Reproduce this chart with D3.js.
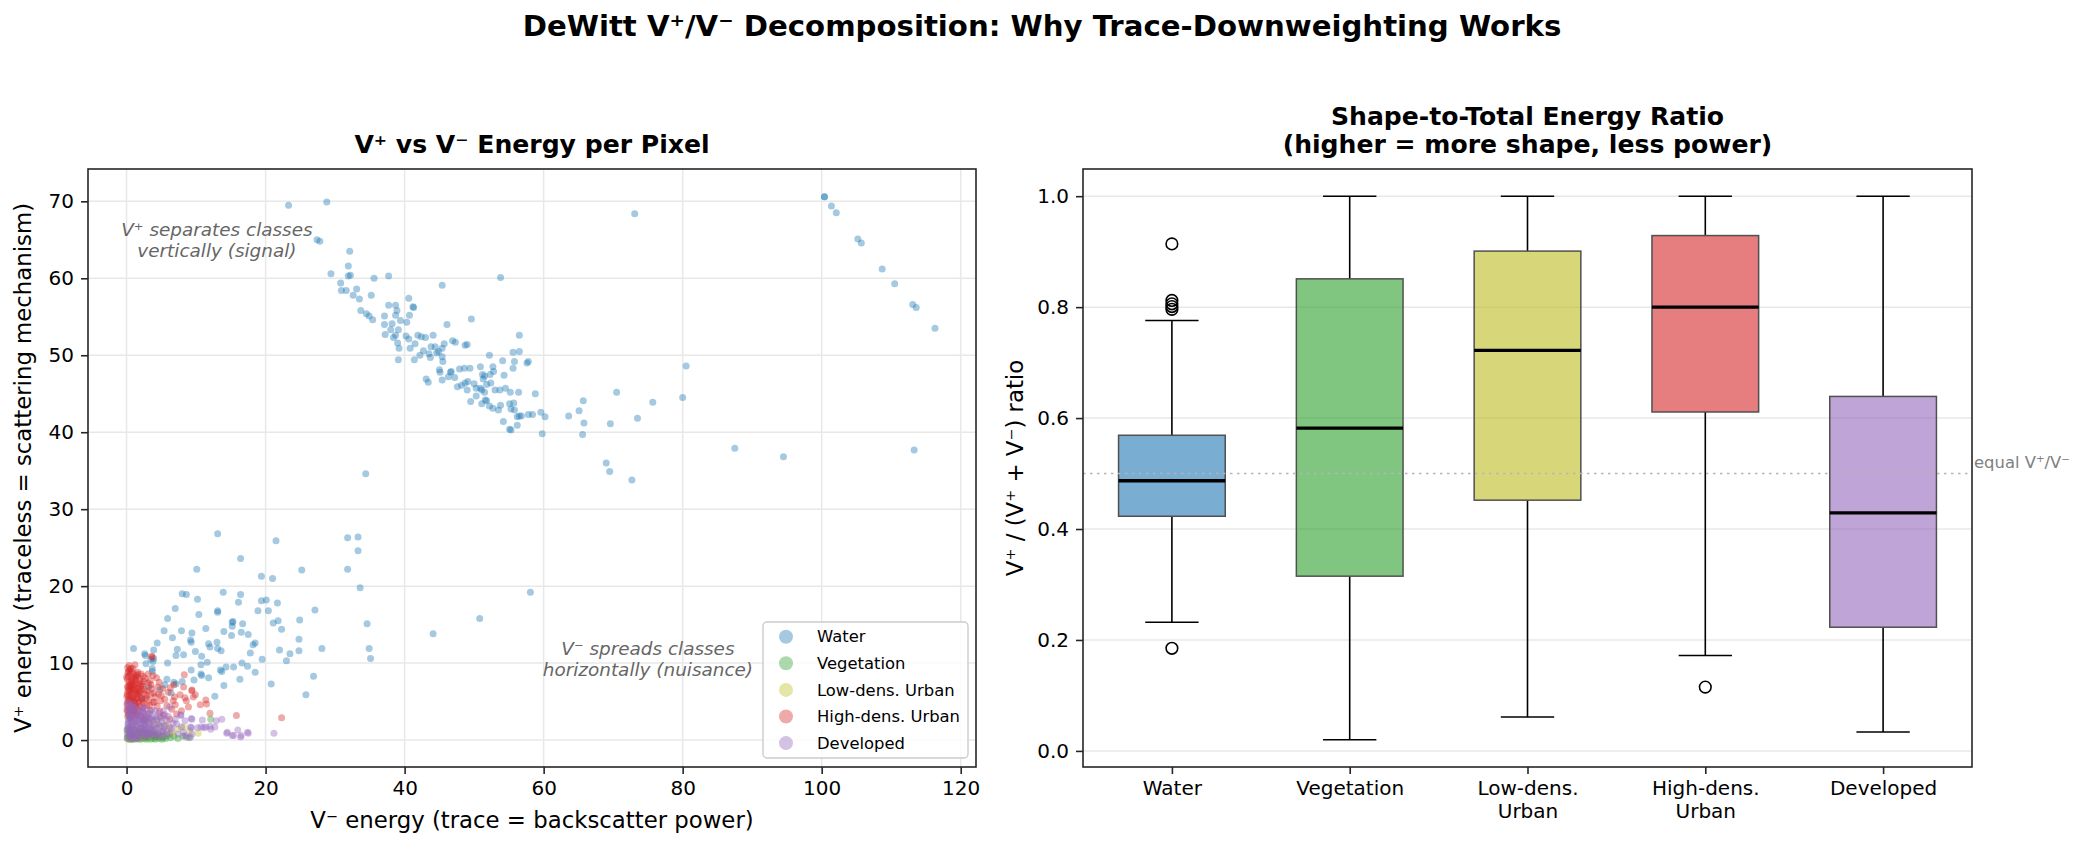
<!DOCTYPE html>
<html>
<head>
<meta charset="utf-8">
<script src="https://cdn.jsdelivr.net/npm/d3@7"></script>
<style>
  body { margin: 0; background: #fff; }
  svg { font-family: "DejaVu Sans", sans-serif; display: block; }
</style>
</head>
<body>
<svg id="chart" width="2084" height="848"></svg>
<script>
// ---------- data ----------
const classes = ["Water", "Vegetation", "Low-dens. Urban", "High-dens. Urban", "Developed"];
const classColors = ["#1f77b4", "#2ca02c", "#bcbd22", "#d62728", "#9467bd"];
const boxLabels = ["Water", "Vegetation", "Low-dens.\nUrban", "High-dens.\nUrban", "Developed"];

const xTicks = [0, 20, 40, 60, 80, 100, 120];
const yTicks = [0, 10, 20, 30, 40, 50, 60, 70];
const ratioTicks = [0.0, 0.2, 0.4, 0.6, 0.8, 1.0];

// [V- energy, V+ energy] per pixel
const water = [
  [23.3,69.5],[28.8,69.9],[27.4,65.0],[27.8,64.8],[32.1,63.5],[31.9,61.6],[29.4,60.6],[31.9,60.3],[32.2,60.4],[35.6,60.0],
  [37.7,60.3],[45.4,59.1],[53.8,60.1],[30.8,59.4],[30.9,58.4],[31.6,58.4],[33.1,58.6],[32.6,57.8],[33.5,57.3],[35.2,57.8],
  [40.6,57.4],[41.2,56.3],[41.3,56.2],[33.7,55.8],[34.5,55.4],[34.9,55.1],[35.4,54.6],[37.7,56.5],[38.7,56.5],[38.9,55.8],
  [38.7,55.2],[39.4,54.5],[40.3,54.3],[37.1,55.1],[40.7,55.2],[37.1,54.0],[38.2,54.1],[39.1,53.3],[38.0,53.3],[37.2,52.7],
  [38.4,52.3],[38.7,52.6],[39.0,51.6],[39.2,50.9],[39.1,49.4],[46.1,54.0],[49.6,54.7],[40.2,52.5],[40.6,52.1],[41.9,52.6],
  [42.4,52.4],[43.0,52.3],[44.1,52.6],[41.5,51.5],[40.8,50.9],[42.7,50.6],[43.5,50.2],[43.8,51.1],[44.4,51.1],[44.9,50.5],
  [45.4,50.9],[44.6,50.3],[45.7,51.5],[46.9,51.9],[47.3,51.7],[48.7,51.3],[49.0,51.4],[42.2,50.0],[41.4,49.4],[43.7,49.7],
  [45.4,49.8],[45.5,49.2],[52.2,50.0],[56.5,52.6],[55.6,50.4],[56.5,50.5],[54.1,49.3],[55.8,49.2],[57.6,49.0],[57.8,49.2],
  [55.6,48.3],[54.3,47.4],[45.0,48.1],[45.1,47.8],[46.6,47.8],[46.7,47.9],[45.4,46.8],[46.3,47.2],[47.2,47.1],[47.9,48.2],
  [48.6,48.3],[49.4,48.3],[50.9,48.5],[52.7,48.5],[52.8,47.9],[51.2,47.5],[51.5,47.3],[51.3,46.9],[52.3,47.5],[43.1,46.9],
  [43.4,46.5],[47.6,45.9],[48.2,46.1],[48.7,46.4],[49.1,46.6],[50.0,46.3],[50.3,45.7],[49.0,45.5],[50.9,45.7],[51.1,45.5],
  [51.5,45.2],[51.8,46.2],[52.4,46.4],[53.0,45.5],[53.7,45.5],[54.5,45.7],[55.2,45.2],[56.4,45.2],[58.8,45.0],[49.5,44.0],
  [50.3,44.7],[51.1,43.7],[51.6,44.2],[51.8,44.1],[52.2,43.4],[52.7,43.1],[53.5,42.9],[53.8,43.5],[55.1,43.7],[55.7,43.8],
  [55.3,43.0],[55.8,42.9],[56.2,42.0],[56.5,42.1],[56.2,40.9],[56.8,42.1],[54.2,41.4],[55.1,40.4],[55.3,40.3],[57.8,42.3],
  [58.4,42.3],[59.6,42.6],[60.2,42.0],[59.8,39.8],[63.6,42.1],[65.1,42.8],[65.7,44.1],[65.8,41.2],[65.6,39.7],
  [69.0,36.0],[69.5,34.9],[70.5,45.2],[69.6,41.1],[73.1,68.4],[73.5,41.8],[75.7,43.9],[80.0,44.5],[80.5,48.6],[72.7,33.8],
  [87.5,37.9],[94.5,36.8],[113.3,37.7],[100.4,70.6],[100.4,70.6],[101.4,69.4],[102.1,68.5],[105.2,65.1],[105.7,64.6],
  [108.7,61.2],[110.5,59.3],[113.1,56.6],[113.6,56.2],[116.3,53.5],[34.4,34.6],[58.1,19.2],[50.8,15.8],[44.1,13.8],
  [13.1,26.8],[21.5,25.9],[31.8,26.3],[33.3,26.4],[33.3,24.6],[16.4,23.6],[10.1,22.2],[25.2,22.1],[31.8,22.2],[19.4,21.3],
  [21.0,21.0],[33.6,19.8],[8.0,19.0],[8.6,18.9],[10.2,18.3],[13.9,19.2],[16.4,18.9],[16.1,17.9],[19.4,18.1],[20.1,18.2],
  [21.7,17.8],[18.9,16.8],[20.4,16.8],[27.1,16.9],[7.0,17.1],[5.9,15.8],[13.1,16.8],[13.1,16.6],[10.4,16.3],[15.2,15.3],
  [15.3,15.4],[15.2,14.8],[16.7,15.1],[21.1,15.2],[21.8,15.5],[22.3,14.4],[24.9,15.6],[34.6,15.1],[11.4,14.5],[14.0,14.1],
  [15.1,13.6],[16.5,14.0],[17.5,13.7],[5.4,14.2],[7.9,14.2],[9.4,13.9],[6.6,13.3],[4.4,12.6],[9.2,13.0],[9.3,12.7],
  [13.0,12.7],[12.0,12.1],[11.8,12.5],[13.6,11.6],[13.1,11.9],[18.2,12.4],[18.5,12.6],[17.8,11.3],[24.8,13.1],[28.1,11.9],
  [34.9,11.9],[35.1,10.6],[23.5,11.2],[24.8,11.6],[22.0,11.7],[23.0,10.3],[1.0,11.9],[2.6,11.2],[2.7,11.0],[3.9,11.7],
  [7.3,11.8],[8.2,11.1],[7.1,11.0],[9.9,11.5],[10.8,10.9],[3.9,10.6],[3.5,10.5],[3.8,10.2],[2.8,9.9],[5.9,10.0],
  [3.7,9.3],[3.7,8.9],[9.3,9.1],[10.7,9.8],[11.6,10.1],[13.7,8.9],[13.5,9.1],[14.3,9.5],[15.4,9.5],[16.6,10.0],
  [17.4,9.6],[19.5,10.5],[18.5,8.8],[16.3,7.9],[10.7,8.6],[11.8,8.1],[9.7,7.8],[8.0,7.6],[6.8,7.5],[7.1,7.3],
  [5.8,7.9],[20.8,7.3],[14.0,7.1],[26.9,8.3],[12.7,5.7],[25.8,5.9],[5.5,7.2],[10.8,8.4],[4.8,6.6],[3.2,6.9],
  [2.2,5.4],[6.4,6.1]
];

const vegetation = [
  [0.1,0.2],[0.2,0.5],[0.35,0.1],[0.4,0.8],[0.55,0.3],[0.6,1.0],[0.7,0.05],[0.85,0.6],[0.9,0.2],[1.05,0.9],
  [1.1,0.4],[1.25,0.1],[1.3,0.7],[1.45,1.1],[1.5,0.3],[1.65,0.8],[1.7,0.15],[1.85,0.5],[1.9,1.0],[2.05,0.1],
  [2.1,0.7],[2.25,0.3],[2.3,1.2],[2.45,0.6],[2.5,0.2],[2.65,0.9],[2.7,0.4],[2.85,0.1],[2.9,0.6],[3.05,1.0],
  [3.1,0.3],[3.3,0.8],[3.45,0.1],[3.5,0.5],[3.7,0.9],[3.85,0.2],[4.0,0.6],[4.15,0.1],[4.3,0.4],[4.5,0.8],
  [4.7,0.2],[4.9,0.5],[5.1,0.1],[5.3,0.4],[5.6,0.2],[5.9,0.6],[6.3,0.3],[6.8,0.5],[7.4,0.2],[8.1,0.5],
  [9.0,0.3],[12.1,2.7],[0.05,1.3],[0.3,1.6],[1.2,1.4]
];

const lowDensUrban = [
  [0.2,0.6],[0.4,1.5],[0.7,2.3],[0.9,0.4],[1.2,1.2],[1.5,2.0],[1.8,0.7],[2.1,1.6],[2.4,2.6],[2.7,0.9],
  [3.0,1.9],[3.3,0.5],[3.6,1.4],[3.9,2.2],[4.2,0.8],[4.6,1.7],[5.0,0.6],[5.4,2.0],[5.8,1.1],[6.1,1.7],
  [6.6,0.9],[7.4,1.4],[8.2,1.7],[10.3,0.9],[0.1,3.0],[0.5,3.4],[1.0,2.8],[1.6,3.1],[2.3,0.3],[3.1,2.9],
  [4.4,2.7],[0.3,0.1],[1.3,0.2],[9.1,1.2]
];

const highDensUrban = [
  [1.2,9.8],[0.2,8.7],[3.7,10.8],[8.3,8.5],[6.8,7.2],[9.4,6.4],[9.9,5.9],[8.4,5.5],[7.7,5.9],[6.9,5.6],
  [8.9,4.3],[10.6,4.6],[11.5,4.7],[12.0,3.5],[15.8,3.2],[22.3,2.9],[6.0,6.2],[5.2,6.7],[4.7,7.5],[4.3,8.1],
  [3.4,7.7],[2.4,8.3],[1.9,7.7],[1.4,8.4],[0.7,7.7],[0.4,7.1],[0.2,6.4],[0.5,5.8],[0.2,5.1],[1.0,5.1],
  [1.7,6.7],[2.6,6.0],[3.6,6.7],[4.1,5.6],[4.9,5.1],[5.8,4.5],[6.5,4.0],[7.2,3.4],[7.9,3.8],[5.3,3.2],
  [6.2,2.7],[5.0,5.8],[3.8,4.9],[2.9,4.5],[2.2,5.1],[1.4,4.7],[0.7,4.3],[0.2,3.6],[1.2,3.2],[2.4,3.6],
  [3.4,3.8],[1.0,6.4],[2.2,7.3],[3.1,8.6],[0.0,8.2],[0.6,9.3],[4.6,6.0],[6.7,5.1],[8.2,6.9],[8.6,5.1],
  [9.6,5.6],[3.6,10.9],[11.4,5.2],[9.4,6.5],[0.1,7.9],[0.3,8.9],[0.5,6.6],[0.6,7.3],[0.8,8.1],[0.9,5.5],
  [1.1,6.9],[1.3,7.8],[1.5,5.9],[1.6,8.8],[1.8,6.3],[2.0,7.0],[0.2,4.4],[0.4,5.3],[0.7,6.1],[1.0,4.0],
  [1.2,7.4],[1.4,6.2],[1.7,4.9],[1.9,5.6],[2.1,6.5],[2.3,4.2],[2.5,7.6],[2.8,5.4],[0.1,6.0],[0.3,3.2],
  [0.6,2.8],[0.9,3.9],[1.1,8.5],[1.3,4.6],[1.5,3.4],[1.8,8.0],[2.2,3.0],[2.6,2.6],[3.0,6.4],[3.2,5.2],
  [3.5,7.2],[3.9,6.1],[4.4,4.4],[4.8,3.7],[0.05,5.7],[0.15,7.0],[0.45,9.1],[0.85,7.6],[1.25,5.3],
  [0.05,3.9],[0.1,4.8],[0.2,6.8],[0.25,8.3],[0.3,5.6],[0.35,7.5],[0.4,4.1],[0.45,6.3],[0.5,8.6],[0.55,5.0],
  [0.6,7.0],[0.65,3.5],[0.7,8.9],[0.75,5.4],[0.8,6.7],[0.9,4.6],[0.95,7.2],[1.0,8.0],[1.05,6.0],[1.1,3.6],
  [1.15,5.0],[1.2,6.6],[1.3,8.2],[1.35,4.2],[1.4,7.1],[1.5,5.5],[1.55,8.6],[1.6,3.8],[1.7,6.0],[1.8,7.3],
  [1.9,4.4],[2.0,6.2],[2.1,8.6],[2.2,5.3],[2.3,7.0],[2.4,4.8],[2.6,6.6],[2.7,8.0],[2.9,5.8],[3.1,7.4],
  [3.3,4.5],[3.5,6.0],[3.8,8.4],[4.0,4.9],[4.5,6.9],[5.5,5.3],[6.3,6.8],[7.0,4.6],[0.15,9.4],[0.35,9.7],[0.9,9.3]
];

const developed = [
  [13.7,2.7],[12.1,1.4],[12.7,1.7],[11.4,1.7],[10.7,1.7],[9.4,2.7],[14.4,0.9],[15.2,0.6],[16.0,1.3],[16.4,0.4],
  [17.5,0.9],[21.2,0.9],[10.2,1.6],[7.8,3.2],[8.6,0.4],[9.2,0.4],[7.2,2.1],[6.5,1.4],[7.9,1.7],[5.8,2.5],
  [5.3,1.2],[6.2,0.8],[7.4,0.8],[4.6,2.1],[3.8,1.2],[3.4,2.7],[2.6,2.1],[1.9,1.4],[1.4,2.5],[0.5,3.8],
  [0.2,3.2],[1.0,0.8],[2.9,0.8],[4.3,0.6],[4.8,3.0],[6.2,4.3],[5.3,3.8],[2.4,4.3],[1.0,4.3],[3.1,3.4],
  [4.1,3.8],[9.4,0.8],[12.9,2.5],[10.9,2.6],[9.2,1.7],[8.4,2.5],[8.2,1.0],[7.0,2.7],[5.4,1.7],[14.5,1.0],
  [15.4,0.6],[16.5,0.6],[17.4,1.0],[12.0,1.8],[9.3,1.6],[11.1,1.6],[8.4,0.6],[7.8,3.3],[9.3,2.8],
  [0.1,0.9],[0.2,1.7],[0.3,2.6],[0.4,0.4],[0.5,1.3],[0.6,3.1],[0.7,2.0],[0.8,0.7],[0.9,1.6],[1.1,2.9],
  [1.2,0.3],[1.3,1.9],[1.5,3.6],[1.6,1.1],[1.7,2.4],[1.8,0.5],[2.0,1.5],[2.1,3.2],[2.2,2.2],[2.4,0.9],
  [2.5,1.8],[2.7,2.9],[2.8,0.4],[3.0,1.3],[3.1,2.3],[3.3,3.5],[3.5,0.7],[3.6,1.8],[3.8,2.6],[4.0,1.0],
  [4.2,3.0],[4.4,1.6],[4.7,0.5],[5.0,2.4],[5.2,1.1],[5.5,3.3],[0.15,3.9],[0.35,4.2],[0.55,0.2],[1.0,2.3],
  [1.4,0.2],[2.3,3.8],[2.9,1.0],[3.4,2.1],[0.25,2.3],[0.75,1.0],[1.9,2.7],[2.6,1.2],
  [0.1,0.3],[0.2,2.1],[0.3,1.1],[0.4,3.4],[0.5,0.6],[0.6,2.4],[0.7,1.5],[0.8,3.0],[0.9,0.2],[1.0,1.9],
  [1.1,3.7],[1.2,1.2],[1.3,2.7],[1.4,0.6],[1.5,1.7],[1.6,3.3],[1.7,0.9],[1.8,2.2],[1.9,0.3],[2.0,3.0],
  [2.1,1.0],[2.2,1.7],[2.3,2.6],[2.4,0.5],[2.5,3.4],[2.6,2.0],[2.7,1.4],[2.8,2.5],[2.9,3.1],[3.0,0.6],
  [3.2,1.6],[3.3,2.8],[3.4,0.9],[3.5,1.4],[3.7,3.0],[3.9,0.5],[4.0,2.0],[4.1,1.3],[4.3,2.6],[4.5,0.9],
  [4.6,3.5],[4.8,1.8],[5.0,1.0],[5.1,2.9],[5.3,0.4],[5.6,1.9],[5.8,0.9],[6.0,3.1],[6.3,1.6],[6.7,2.2],
  [0.05,4.6],[0.3,4.9],[0.6,4.0],[0.9,4.7],[1.3,4.1],[1.8,3.9],[2.6,4.0],[3.6,3.9],[0.15,1.4],[0.45,2.9]
];

const scatterData = [water, vegetation, lowDensUrban, highDensUrban, developed];

// V+ / (V+ + V-) ratio box statistics per class
const boxWhiskLo = [0.232, 0.020, 0.061, 0.172, 0.034];
const boxQ1      = [0.423, 0.315, 0.452, 0.611, 0.223];
const boxMedian  = [0.487, 0.582, 0.722, 0.800, 0.429];
const boxQ3      = [0.569, 0.851, 0.901, 0.929, 0.639];
const boxWhiskHi = [0.776, 1.000, 1.000, 1.000, 1.000];
const boxOutliers = [[0.914, 0.812, 0.806, 0.801, 0.796, 0.185], [], [], [0.115], []];

// ---------- layout ----------
const L = { left: 88, right: 976, top: 169, bottom: 767 };
const R = { left: 1083, right: 1972, top: 169, bottom: 767 };
const font = "DejaVu Sans";
const spine = "#262626";
const gridCol = "#e8e8e8";

const svg = d3.select("#chart");
svg.append("rect").attr("width", 2084).attr("height", 848).attr("fill", "#fff");

svg.append("text")
  .attr("x", 1042).attr("y", 36)
  .attr("text-anchor", "middle")
  .attr("font-size", 29.2).attr("font-weight", "bold")
  .text("DeWitt V⁺/V⁻ Decomposition: Why Trace-Downweighting Works");

function styleAxis(g) {
  g.select(".domain").remove();
  g.selectAll(".tick line").attr("stroke", spine).attr("stroke-width", 1.6);
  g.selectAll(".tick text").attr("font-size", 20).attr("fill", "#000").attr("font-family", font);
}

// ---------- left: scatter ----------
const xS = d3.scaleLinear().domain([-5.55, 122.2]).range([L.left, L.right]);
const yS = d3.scaleLinear().domain([-3.5, 74.2]).range([L.bottom, L.top]);

const gL = svg.append("g");

gL.selectAll(".vgrid").data(xTicks).enter().append("line")
  .attr("x1", d => xS(d)).attr("x2", d => xS(d))
  .attr("y1", L.top).attr("y2", L.bottom)
  .attr("stroke", gridCol).attr("stroke-width", 1.5);

gL.selectAll(".hgrid").data(yTicks).enter().append("line")
  .attr("x1", L.left).attr("x2", L.right)
  .attr("y1", d => yS(d)).attr("y2", d => yS(d))
  .attr("stroke", gridCol).attr("stroke-width", 1.5);

scatterData.forEach((pts, i) => {
  gL.append("g").selectAll("circle")
    .data(pts)
    .enter().append("circle")
    .attr("cx", d => xS(d[0]))
    .attr("cy", d => yS(d[1]))
    .attr("r", 3.5)
    .attr("fill", classColors[i])
    .attr("fill-opacity", 0.4);
});

// annotations
function note(x, y, lines) {
  const t = gL.append("text")
    .attr("text-anchor", "middle")
    .attr("font-size", 18.4).attr("font-style", "italic")
    .attr("fill", "#666");
  lines.forEach((s, k) => {
    t.append("tspan")
      .attr("x", xS(x))
      .attr("y", yS(y) - 10.5 + 6.4 + k * 21)
      .text(s);
  });
}
note(13, 65, ["V⁺ separates classes", "vertically (signal)"]);
note(75, 10.5, ["V⁻ spreads classes", "horizontally (nuisance)"]);

gL.append("g")
  .attr("transform", `translate(0,${L.bottom})`)
  .call(d3.axisBottom(xS).tickValues(xTicks).tickSize(7).tickPadding(7).tickFormat(d3.format("d")))
  .call(styleAxis);

gL.append("g")
  .attr("transform", `translate(${L.left},0)`)
  .call(d3.axisLeft(yS).tickValues(yTicks).tickSize(7).tickPadding(7).tickFormat(d3.format("d")))
  .call(styleAxis);

gL.append("rect")
  .attr("x", L.left).attr("y", L.top)
  .attr("width", L.right - L.left).attr("height", L.bottom - L.top)
  .attr("fill", "none").attr("stroke", spine).attr("stroke-width", 1.6);

gL.append("text")
  .attr("x", (L.left + L.right) / 2).attr("y", 153)
  .attr("text-anchor", "middle")
  .attr("font-size", 25.1).attr("font-weight", "bold")
  .text("V⁺ vs V⁻ Energy per Pixel");

gL.append("text")
  .attr("x", (L.left + L.right) / 2).attr("y", 828)
  .attr("text-anchor", "middle")
  .attr("font-size", 22.8)
  .text("V⁻ energy (trace = backscatter power)");

gL.append("text")
  .attr("transform", `translate(31,${(L.top + L.bottom) / 2}) rotate(-90)`)
  .attr("text-anchor", "middle")
  .attr("font-size", 22.8)
  .text("V⁺ energy (traceless = scattering mechanism)");

// legend
const lg = gL.append("g").attr("transform", `translate(${L.right - 213},${L.bottom - 145})`);
lg.append("rect")
  .attr("width", 205).attr("height", 136)
  .attr("rx", 4)
  .attr("fill", "#fff").attr("fill-opacity", 0.8)
  .attr("stroke", "#cccccc").attr("stroke-width", 1.4);

const rows = lg.selectAll(".row").data(classes).enter().append("g")
  .attr("transform", (d, i) => `translate(0,${14.7 + i * 26.6})`);
rows.append("circle")
  .attr("cx", 23).attr("r", 7)
  .attr("fill", (d, i) => classColors[i]).attr("fill-opacity", 0.4);
rows.append("text")
  .attr("x", 54).attr("dy", "0.35em")
  .attr("font-size", 16.4)
  .text(d => d);

// ---------- right: box plot ----------
const xB = d3.scalePoint().domain(classes).range([R.left, R.right]).padding(0.5);
const yB = d3.scaleLinear().domain([-0.029, 1.049]).range([R.bottom, R.top]);
const bw = xB.step() * 0.6;

const gR = svg.append("g");

gR.selectAll(".hgrid").data(ratioTicks).enter().append("line")
  .attr("x1", R.left).attr("x2", R.right)
  .attr("y1", d => yB(d)).attr("y2", d => yB(d))
  .attr("stroke", gridCol).attr("stroke-width", 1.5);

classes.forEach((c, i) => {
  const cx = xB(c);
  const g = gR.append("g");
  // whiskers
  g.append("line").attr("x1", cx).attr("x2", cx)
    .attr("y1", yB(boxWhiskLo[i])).attr("y2", yB(boxQ1[i]))
    .attr("stroke", "#000").attr("stroke-width", 1.6);
  g.append("line").attr("x1", cx).attr("x2", cx)
    .attr("y1", yB(boxQ3[i])).attr("y2", yB(boxWhiskHi[i]))
    .attr("stroke", "#000").attr("stroke-width", 1.6);
  // caps
  [boxWhiskLo[i], boxWhiskHi[i]].forEach(v => {
    g.append("line").attr("x1", cx - bw / 4).attr("x2", cx + bw / 4)
      .attr("y1", yB(v)).attr("y2", yB(v))
      .attr("stroke", "#000").attr("stroke-width", 1.6);
  });
  // box
  g.append("rect")
    .attr("x", cx - bw / 2).attr("width", bw)
    .attr("y", yB(boxQ3[i])).attr("height", yB(boxQ1[i]) - yB(boxQ3[i]))
    .attr("fill", classColors[i]).attr("fill-opacity", 0.6)
    .attr("stroke", "#505050").attr("stroke-width", 1.5);
  // median
  g.append("line").attr("x1", cx - bw / 2).attr("x2", cx + bw / 2)
    .attr("y1", yB(boxMedian[i])).attr("y2", yB(boxMedian[i]))
    .attr("stroke", "#000").attr("stroke-width", 3.3);
  // outliers
  g.selectAll(".flier").data(boxOutliers[i]).enter().append("circle")
    .attr("cx", cx).attr("cy", d => yB(d))
    .attr("r", 5.8)
    .attr("fill", "none").attr("stroke", "#000").attr("stroke-width", 1.6);
});

// equal-energy reference line
gR.append("line")
  .attr("x1", R.left).attr("x2", R.right)
  .attr("y1", yB(0.5)).attr("y2", yB(0.5))
  .attr("stroke", "#b5b5b5").attr("stroke-width", 1.6)
  .attr("stroke-dasharray", "2.5,4.5");

gR.append("text")
  .attr("x", R.right + 2).attr("y", yB(0.52))
  .attr("dy", "0.35em")
  .attr("font-size", 16.4).attr("fill", "#808080")
  .text("equal V⁺/V⁻");

const xAxR = gR.append("g")
  .attr("transform", `translate(0,${R.bottom})`)
  .call(d3.axisBottom(xB).tickSize(7).tickPadding(7))
  .call(styleAxis);

xAxR.selectAll(".tick text").each(function (d, i) {
  const t = d3.select(this).attr("dy", null).text(null);
  boxLabels[i].split("\n").forEach((s, k) => {
    t.append("tspan").attr("x", 0)
      .attr("dy", k === 0 ? "0.71em" : "1.15em")
      .text(s);
  });
});

gR.append("g")
  .attr("transform", `translate(${R.left},0)`)
  .call(d3.axisLeft(yB).tickValues(ratioTicks).tickSize(7).tickPadding(7).tickFormat(d3.format(".1f")))
  .call(styleAxis);

gR.append("rect")
  .attr("x", R.left).attr("y", R.top)
  .attr("width", R.right - R.left).attr("height", R.bottom - R.top)
  .attr("fill", "none").attr("stroke", spine).attr("stroke-width", 1.6);

gR.append("text")
  .attr("x", (R.left + R.right) / 2).attr("y", 124.5)
  .attr("text-anchor", "middle")
  .attr("font-size", 25.1).attr("font-weight", "bold")
  .text("Shape-to-Total Energy Ratio");
gR.append("text")
  .attr("x", (R.left + R.right) / 2).attr("y", 153)
  .attr("text-anchor", "middle")
  .attr("font-size", 25.1).attr("font-weight", "bold")
  .text("(higher = more shape, less power)");

gR.append("text")
  .attr("transform", `translate(1023,${(R.top + R.bottom) / 2}) rotate(-90)`)
  .attr("text-anchor", "middle")
  .attr("font-size", 22.8)
  .text("V⁺ / (V⁺ + V⁻) ratio");
</script>
</body>
</html>
